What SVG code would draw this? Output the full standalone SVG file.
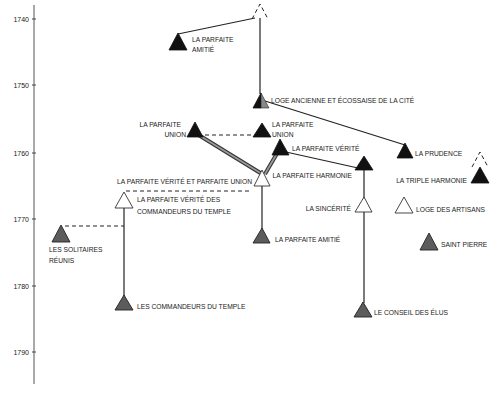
<svg xmlns="http://www.w3.org/2000/svg" width="500" height="401" viewBox="0 0 500 401">
<style>
text{font-family:"Liberation Sans",Arial,sans-serif;font-size:6.7px;fill:#222}
.ax{font-size:7px;text-anchor:end}
.e{text-anchor:end}
.b{fill:#111;stroke:#111;stroke-width:0.8}
.w{fill:#fff;stroke:#333;stroke-width:0.9}
.g{fill:#5c5c5c;stroke:#222;stroke-width:0.9}
.ln{fill:none;stroke:#222;stroke-width:1.2}
.ds{fill:none;stroke:#222;stroke-width:1;stroke-dasharray:4 3}
.dbo{fill:none;stroke:#333;stroke-width:4}
.dbi{fill:none;stroke:#9a9a9a;stroke-width:1.8}
</style>
<rect width="500" height="401" fill="#fff"/>
<g id="axis">
<line x1="34" y1="5" x2="34" y2="384" stroke="#555" stroke-width="1"/>
<g stroke="#444" stroke-width="1">
<line x1="32" y1="19" x2="36" y2="19"/><line x1="32" y1="85" x2="36" y2="85"/><line x1="32" y1="153" x2="36" y2="153"/><line x1="32" y1="219" x2="36" y2="219"/><line x1="32" y1="286" x2="36" y2="286"/><line x1="32" y1="352" x2="36" y2="352"/>
</g>
<text class="ax" x="29" y="21.5">1740</text>
<text class="ax" x="29" y="87.5">1750</text>
<text class="ax" x="29" y="155.5">1760</text>
<text class="ax" x="29" y="221.5">1770</text>
<text class="ax" x="29" y="288.5">1780</text>
<text class="ax" x="29" y="354.5">1790</text>
</g>
<g id="connectors">
<line class="ln" x1="260" y1="18" x2="260" y2="94"/>
<line class="ln" x1="255" y1="18" x2="178" y2="34"/>
<line class="ln" x1="265" y1="101" x2="405" y2="145"/>
<line class="ds" x1="205" y1="135" x2="253" y2="135"/>
<line class="dbo" x1="197" y1="134" x2="262" y2="174"/>
<line class="dbi" x1="197" y1="134" x2="262" y2="174"/>
<line class="dbo" x1="279" y1="150" x2="265" y2="174"/>
<line class="dbi" x1="279" y1="150" x2="265" y2="174"/>
<line class="ln" x1="286" y1="152" x2="358" y2="168"/>
<line class="ln" x1="262" y1="186" x2="262" y2="229"/>
<line class="ds" x1="126" y1="191" x2="250" y2="191"/>
<line class="ln" x1="124" y1="207" x2="124" y2="296"/>
<line class="ds" x1="65" y1="226" x2="124" y2="226"/>
<line class="ln" x1="364" y1="170" x2="364" y2="303"/>
</g>
<g id="n-top-ghost"><path class="ds" d="M252,19 L260,4 L268,19" stroke-dasharray="3 3"/></g>
<g id="n-parfaite-amitie-1"><polygon class="b" points="178,33 169,50 187,50"/><text x="192" y="42">LA PARFAITE</text><text x="192" y="52">AMITIÉ</text></g>
<g id="n-loge-ancienne"><polygon class="b" points="261,93 253,108 261,108"/><polygon fill="#888" stroke="#222" stroke-width="0.6" points="261,93 269,108 261,108"/><text x="271" y="103">LOGE ANCIENNE ET ÉCOSSAISE DE LA CITÉ</text></g>
<g id="n-prudence"><polygon class="b" points="405,143 397,158 413,158"/><text x="415" y="156">LA PRUDENCE</text></g>
<g id="n-parfaite-union-1"><polygon class="b" points="195,122 187,137 203,137"/><text class="e" x="181" y="127">LA PARFAITE</text><text class="e" x="186" y="137">UNION</text></g>
<g id="n-parfaite-union-2"><polygon class="b" points="262,123 253,137 271,137"/><text x="272" y="127">LA PARFAITE</text><text x="272" y="137">UNION</text></g>
<g id="n-parfaite-verite"><polygon class="b" points="280,139 272,155 289,155"/><text x="292" y="151">LA PARFAITE VÉRITÉ</text></g>
<g id="n-pvpu"><polygon class="w" points="262,170 254,186 270,186"/><text class="e" x="252" y="183.5">LA PARFAITE VÉRITÉ ET PARFAITE UNION</text></g>
<g id="n-parfaite-amitie-2"><polygon class="g" points="262,228 253,243 270,243"/><text x="275" y="242">LA PARFAITE AMITIÉ</text></g>
<g id="n-pvct"><polygon class="w" points="124,192 115,208 133,208"/><text x="137" y="202">LA PARFAITE VÉRITÉ DES</text><text x="137" y="214">COMMANDEURS DU TEMPLE</text></g>
<g id="n-commandeurs"><polygon class="g" points="124,295 115,310 133,310"/><text x="137" y="309">LES COMMANDEURS DU TEMPLE</text></g>
<g id="n-solitaires"><polygon class="g" points="61,225 52,242 70,242"/><text x="49" y="252">LES SOLITAIRES</text><text x="49" y="263">RÉUNIS</text></g>
<g id="n-harmonie"><polygon class="b" points="364,156 355,170 373,170"/><text class="e" x="352" y="178">LA PARFAITE HARMONIE</text></g>
<g id="n-sincerite"><polygon class="w" points="364,197 355,212 372,212"/><text class="e" x="351" y="211">LA SINCÉRITÉ</text></g>
<g id="n-conseil"><polygon class="g" points="363,302 354,317 372,317"/><text x="374" y="315">LE CONSEIL DES ÉLUS</text></g>
<g id="n-triple-harmonie"><path class="ds" d="M472,167 L480,152 L488,167" stroke-dasharray="3 3"/><polygon class="b" points="480,167 471,183 489,183"/><text class="e" x="467" y="183">LA TRIPLE HARMONIE</text></g>
<g id="n-artisans"><polygon class="w" points="404,197 395,213 413,213"/><text x="416" y="212">LOGE DES ARTISANS</text></g>
<g id="n-saint-pierre"><polygon class="g" points="429,233 420,250 438,250"/><text x="441" y="247">SAINT PIERRE</text></g>
</svg>
